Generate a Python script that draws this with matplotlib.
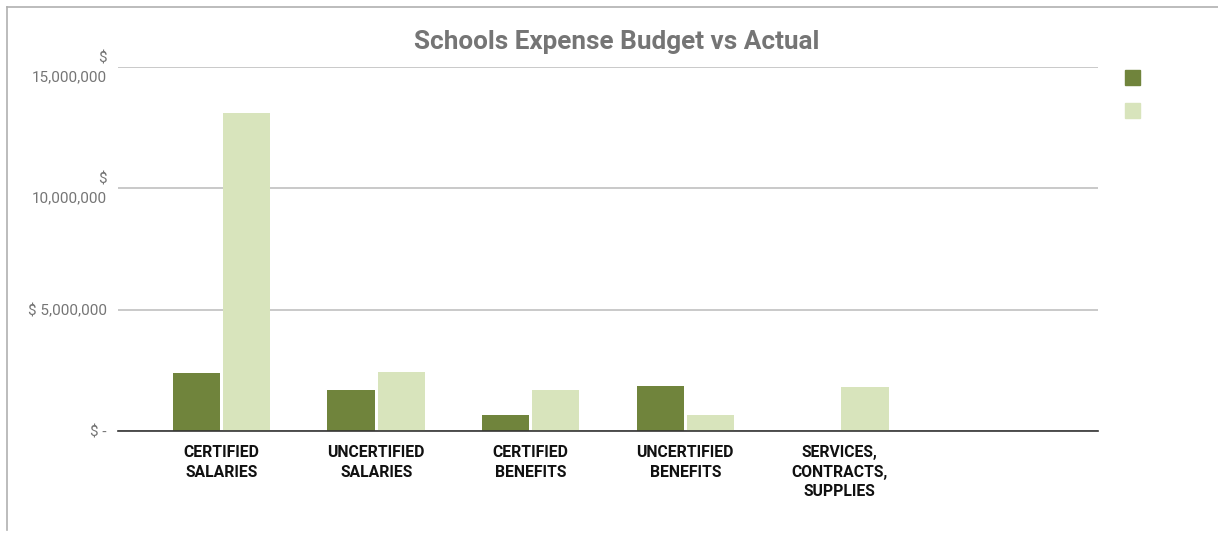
import numpy as np
import matplotlib
matplotlib.use('Agg')
from matplotlib import pyplot as plt
from matplotlib.patches import Rectangle
from matplotlib.transforms import ScaledTranslation

plt.rcParams['font.family'] = ['Roboto', 'DejaVu Sans']

categories = ['CERTIFIED\nSALARIES', 'UNCERTIFIED\nSALARIES', 'CERTIFIED\nBENEFITS',
              'UNCERTIFIED\nBENEFITS', 'SERVICES,\nCONTRACTS,\nSUPPLIES', '']
budget = [2390000, 1690000, 660000, 1850000, 0, 0]
actual = [13100000, 2430000, 1690000, 660000, 1810000, 0]
y_ticks = [0, 5000000, 10000000, 15000000]
y_labels = ['$ -', '$ 5,000,000', '$\n10,000,000', '$\n15,000,000']

dark = '#70843c'
light = '#d8e4bc'

fig = plt.figure(figsize=(12.18, 5.33), dpi=100)
ax = fig.add_axes([118 / 1218, 1 - 431 / 533, 980 / 1218, 364 / 533])

x = np.arange(len(categories))
w = 0.305
ax.bar(x - w / 2 - 0.01, budget, width=w, color=dark, zorder=3)
ax.bar(x + w / 2 + 0.01, actual, width=w, color=light, zorder=3)

ax.set_xlim(-0.67, 5.67)
ax.set_ylim(0, 15000000)
ax.set_yticks(y_ticks)
ax.set_yticklabels(y_labels, color='#757575', fontsize=11, linespacing=1.4)
ax.set_xticks(x)
ax.set_xticklabels(categories, fontsize=11.3, fontweight='bold', color='#111111',
                   linespacing=1.4, va='top')
ax.tick_params(axis='both', length=0)
ax.tick_params(axis='y', pad=8)
ax.tick_params(axis='x', pad=10)

# two-line labels sit a little higher
for lab in ax.get_yticklabels():
    if '\n' in lab.get_text():
        lab.set_transform(lab.get_transform() + ScaledTranslation(0, 3 / 100, fig.dpi_scale_trans))

ax.grid(axis='y', color='#c0c0c0', linewidth=1.2, zorder=0)
for s in ['top', 'right', 'left']:
    ax.spines[s].set_visible(False)
ax.spines['bottom'].set_color('#333333')
ax.spines['bottom'].set_linewidth(1.2)
ax.spines['bottom'].set_zorder(4)

fig.text(617 / 1218, 1 - 42 / 533, 'Schools Expense Budget vs Actual', ha='center',
         va='center', fontsize=18.8, fontweight='bold', color='#757575')

# legend swatches without labels
for yy, c in [(70, dark), (103, light)]:
    fig.patches.append(Rectangle((1125 / 1218, 1 - (yy + 15) / 533), 15 / 1218, 15 / 533,
                                 transform=fig.transFigure, color=c))

# chart frame (top and left edge)
fig.add_artist(plt.Line2D([7 / 1218, 1], [1 - 7 / 533, 1 - 7 / 533],
                          transform=fig.transFigure, color='#b0b0b0', linewidth=1.2))
fig.add_artist(plt.Line2D([7 / 1218, 7 / 1218], [1 - 7 / 533, 1 - 530 / 533],
                          transform=fig.transFigure, color='#b0b0b0', linewidth=1.2))

fig.savefig('out.png', dpi=100)
